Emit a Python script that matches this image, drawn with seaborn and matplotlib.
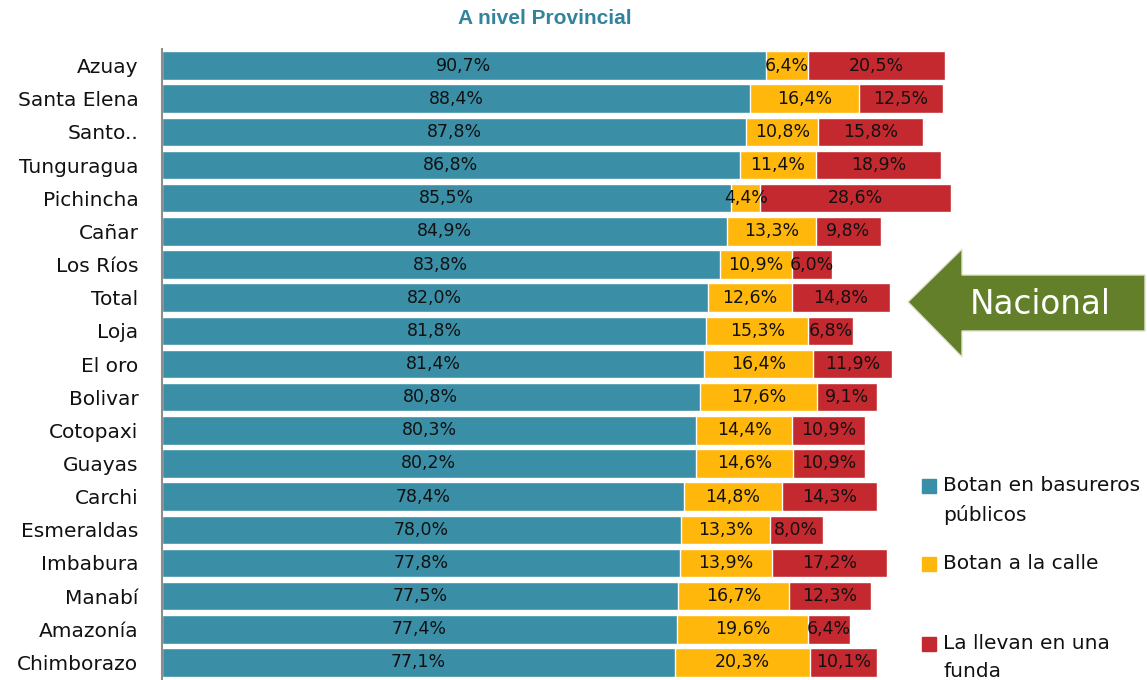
import numpy as np
import pandas as pd
import matplotlib.pyplot as plt
import matplotlib.patches as mpatches
import seaborn as sns

provincias = ['Azuay', 'Santa Elena', 'Santo..', 'Tunguragua', 'Pichincha', 'Cañar',
              'Los Ríos', 'Total', 'Loja', 'El oro', 'Bolivar', 'Cotopaxi', 'Guayas',
              'Carchi', 'Esmeraldas', 'Imbabura', 'Manabí', 'Amazonía', 'Chimborazo']
basureros = [90.7, 88.4, 87.8, 86.8, 85.5, 84.9, 83.8, 82.0, 81.8, 81.4, 80.8, 80.3,
             80.2, 78.4, 78.0, 77.8, 77.5, 77.4, 77.1]
calle = [6.4, 16.4, 10.8, 11.4, 4.4, 13.3, 10.9, 12.6, 15.3, 16.4, 17.6, 14.4,
         14.6, 14.8, 13.3, 13.9, 16.7, 19.6, 20.3]
funda = [20.5, 12.5, 15.8, 18.9, 28.6, 9.8, 6.0, 14.8, 6.8, 11.9, 9.1, 10.9,
         10.9, 14.3, 8.0, 17.2, 12.3, 6.4, 10.1]

series = ['Botan en basureros\npúblicos', 'Botan a la calle', 'La llevan en una\nfunda']
colores = ['#3A8FA7', '#FFB70B', '#C4292F']

df = pd.DataFrame({'prov': provincias, 'b': basureros, 'c': calle, 'f': funda})
df['bc'] = df['b'] + df['c']
df['bcf'] = df['bc'] + df['f']

sns.set_style('white')
plt.rcParams['font.family'] = ['DejaVu Sans']

fig = plt.figure(figsize=(11.47, 6.8), dpi=100)
ax = fig.add_axes([162 / 1147, 1 / 680, 1 - 162 / 1147, 630 / 680])

# barras apiladas: se dibuja de atras hacia adelante
sns.barplot(data=df, x='bcf', y='prov', color=colores[2], orient='h', width=0.86,
            saturation=1, ax=ax)
sns.barplot(data=df, x='bc', y='prov', color=colores[1], orient='h', width=0.86,
            saturation=1, ax=ax)
sns.barplot(data=df, x='b', y='prov', color=colores[0], orient='h', width=0.86,
            saturation=1, ax=ax)

def fmt(v):
    return f'{v:.1f}%'.replace('.', ',')

for i, r in df.iterrows():
    ax.text(r['b'] / 2, i, fmt(r['b']), ha='center', va='center', fontsize=12.5, color='#111111')
    ax.text(r['b'] + r['c'] / 2, i, fmt(r['c']), ha='center', va='center', fontsize=12.5, color='#111111')
    ax.text(r['bc'] + r['f'] / 2, i, fmt(r['f']), ha='center', va='center', fontsize=12.5, color='#111111')

ax.set_xlim(0, 148)
ax.set_ylim(18.5, -0.5)
ax.set_xlabel('')
ax.set_ylabel('')
ax.set_xticks([])
ax.tick_params(axis='y', length=0, pad=17, labelsize=14.5, labelcolor='#111111')
for s in ['top', 'right', 'bottom']:
    ax.spines[s].set_visible(False)
ax.spines['left'].set_color('#8C8C8C')
ax.spines['left'].set_linewidth(1.5)

fig.text(545 / 1147, 1 - 18 / 680, 'A nivel Provincial', ha='center', va='center',
         fontsize=15, fontweight='bold', color='#31849B', family='Liberation Sans')

# leyenda
ley_y = [486, 564, 644]
for lab, col, y in zip(series, colores, ley_y):
    fig.add_artist(mpatches.Rectangle(((922) / 1147, 1 - (y + 7) / 680), 14 / 1147, 14 / 680,
                                      color=col, transform=fig.transFigure))
    fig.text(943 / 1147, 1 - (y - 10) / 680, lab, ha='left', va='top', fontsize=14.5,
             color='#111111', linespacing=1.6)

# flecha "Nacional"
px = [(908, 302), (962, 249), (962, 275), (1145, 275), (1145, 331), (962, 331), (962, 357)]
flecha = mpatches.Polygon([(x / 1147, 1 - y / 680) for x, y in px], closed=True,
                          facecolor='#647F2A', edgecolor='#DDE6CC', linewidth=1,
                          transform=fig.transFigure)
fig.add_artist(flecha)
fig.text(1040 / 1147, 1 - 304 / 680, 'Nacional', ha='center', va='center', fontsize=23.5,
         color='white')

fig.savefig('out.png', dpi=100)
